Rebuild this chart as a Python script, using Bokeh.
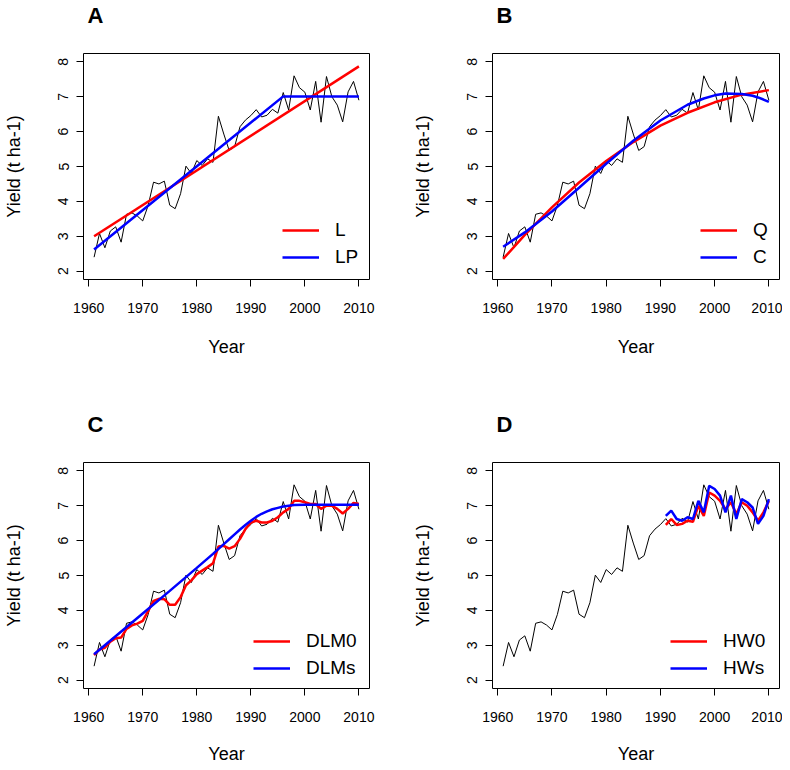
from bokeh.plotting import figure
from bokeh.layouts import column, row
from bokeh.models import Range1d, FixedTicker, Legend, LegendItem
from bokeh.embed import file_html
from bokeh.resources import INLINE

# ---------------- data ----------------
years = list(range(1961, 2011))
yield_obs = [2.40, 3.08, 2.67, 3.15, 3.27, 2.83, 3.63, 3.67, 3.58, 3.44,
             3.88, 4.55, 4.50, 4.58, 3.89, 3.79, 4.22, 5.01, 4.80, 5.17,
             5.03, 5.22, 5.12, 6.44, 5.93, 5.46, 5.57, 6.14, 6.33, 6.46,
             6.63, 6.42, 6.47, 6.64, 6.53, 7.12, 6.62, 7.60, 7.26, 7.13,
             6.62, 7.44, 6.27, 7.58, 7.00, 6.76, 6.28, 7.14, 7.44, 6.90]

# Panel A: linear (L) and linear-plateau (LP)
l_years = [1961, 2010]
l_vals = [3.00, 7.87]
lp_years = [1961, 1996, 2010]
lp_vals = [2.62, 7.01, 7.01]

# Panel B: quadratic (Q) and cubic (C)
q_years = [1961, 1965, 1970, 1975, 1980, 1985, 1990, 1995, 2000, 2005, 2010]
q_vals = [2.35, 3.04, 3.83, 4.54, 5.16, 5.70, 6.17, 6.54, 6.84, 7.06, 7.19]
c_years = [1961, 1965, 1970, 1975, 1980, 1985, 1990, 1995, 1998, 2000, 2002,
           2005, 2007, 2008, 2009, 2010]
c_vals = [2.70, 3.11, 3.71, 4.39, 5.08, 5.74, 6.32, 6.77, 6.95, 7.04, 7.09,
          7.08, 7.03, 6.98, 6.92, 6.85]

# Panel C: DLM0 and DLMs
dlm0_vals = [2.72, 2.88, 2.93, 3.10, 3.20, 3.22, 3.47, 3.57, 3.62, 3.70,
             3.98, 4.27, 4.33, 4.32, 4.16, 4.16, 4.38, 4.72, 4.86, 5.04,
             5.14, 5.24, 5.35, 5.83, 5.85, 5.77, 5.84, 6.05, 6.33, 6.52,
             6.57, 6.52, 6.52, 6.57, 6.67, 6.81, 6.91, 7.14, 7.14, 7.10,
             7.05, 7.05, 6.91, 7.00, 7.00, 6.91, 6.78, 6.91, 7.08, 7.05]
dlms_years = [1961, 1970, 1975, 1980, 1983, 1985, 1986, 1987, 1988, 1989,
              1990, 1991, 1992, 1993, 1994, 1995, 1996, 1997, 1998, 2000, 2010]
dlms_vals = [2.74, 3.91, 4.56, 5.22, 5.62, 5.90, 6.04, 6.18, 6.32, 6.45,
             6.57, 6.68, 6.77, 6.84, 6.90, 6.94, 6.98, 7.00, 7.02, 7.03, 7.03]

# Panel D: Holt-Winters HW0 and HWs
hw_years = list(range(1991, 2011))
hw0_vals = [6.45, 6.62, 6.45, 6.48, 6.57, 6.54, 7.00, 6.71, 7.38, 7.29,
            7.14, 6.90, 7.10, 6.76, 7.10, 7.00, 6.81, 6.57, 6.81, 7.14]
hws_vals = [6.71, 6.86, 6.62, 6.57, 6.67, 6.62, 7.14, 6.81, 7.57, 7.48,
            7.29, 6.81, 7.29, 6.62, 7.19, 7.10, 6.95, 6.48, 6.71, 7.19]

x_ticks = [1960, 1970, 1980, 1990, 2000, 2010]
y_ticks = [2, 3, 4, 5, 6, 7, 8]

FONT = "Liberation Sans"


def panel(letter, red, blue, labels, br, bb, fw, leg_x, leg_y, xlab_standoff):
    p = figure(frame_width=fw, frame_height=226,
               x_range=Range1d(1959.04, 2011.96), y_range=Range1d(1.76, 8.24),
               output_backend="svg", toolbar_location=None,
               min_border_left=83, min_border_right=br,
               min_border_top=53, min_border_bottom=bb)
    p.title.text = letter
    p.title.text_font = FONT
    p.title.text_font_size = "22px"
    p.title.text_font_style = "bold"
    p.title.text_color = "black"
    p.title.align = "left"
    p.title.vertical_align = "bottom"
    p.title.standoff = 0
    p.title.padding = dict(left=0, right=0, top=0, bottom=26)
    p.title.offset = 4
    p.grid.visible = False
    p.outline_line_color = "black"
    p.outline_line_width = 1
    p.outline_line_alpha = 1
    p.background_fill_color = "white"
    p.border_fill_color = "white"

    for ax in (p.xaxis[0], p.yaxis[0]):
        ax.axis_line_color = None
        ax.major_tick_line_color = "black"
        ax.major_tick_out = 7
        ax.major_tick_in = 0
        ax.minor_tick_line_color = None
        ax.major_label_text_font = FONT
        ax.major_label_text_font_size = "14px"
        ax.major_label_text_color = "black"
        ax.axis_label_text_font = FONT
        ax.axis_label_text_font_size = "18px"
        ax.axis_label_text_font_style = "normal"
        ax.axis_label_text_color = "black"

    p.xaxis.ticker = FixedTicker(ticks=x_ticks)
    p.yaxis.ticker = FixedTicker(ticks=y_ticks)
    p.xaxis.axis_label = "Year"
    p.yaxis.axis_label = "Yield (t ha-1)"
    p.xaxis.major_label_standoff = 16
    p.xaxis.axis_label_standoff = xlab_standoff
    p.yaxis.major_label_orientation = "vertical"
    p.yaxis.major_label_standoff = 8
    p.yaxis.axis_label_standoff = 32

    p.line(years, yield_obs, line_color="black", line_width=1)
    rr = p.line(red[0], red[1], line_color="#FF0000", line_width=2.5)
    rb = p.line(blue[0], blue[1], line_color="#0000FF", line_width=2.5)

    leg = Legend(items=[LegendItem(label=labels[0], renderers=[rr]),
                        LegendItem(label=labels[1], renderers=[rb])],
                 location=(leg_x, leg_y))
    leg.border_line_color = None
    leg.background_fill_alpha = 0
    leg.padding = 0
    leg.margin = 0
    leg.spacing = 5
    leg.glyph_width = 37
    leg.glyph_height = 20
    leg.label_height = 20
    leg.label_standoff = 16
    leg.label_text_font = FONT
    leg.label_text_font_size = "19px"
    leg.label_text_color = "black"
    p.add_layout(leg)
    return p


pA = panel("A", (l_years, l_vals), (lp_years, lp_vals), ("L", "LP"),
           40, 130, 286, 199, 11, 21)
pB = panel("B", (q_years, q_vals), (c_years, c_vals), ("Q", "C"),
           3, 130, 287, 208, 11, 21)
pC = panel("C", (years, dlm0_vals), (dlms_years, dlms_vals), ("DLM0", "DLMs"),
           40, 74, 286, 170, 9, 19)
pD = panel("D", (hw_years, hw0_vals), (hw_years, hws_vals), ("HW0", "HWs"),
           3, 74, 287, 178, 9, 19)

layout = column(row(pA, pB), row(pC, pD))

open("out.html", "w").write(file_html(layout, INLINE))
